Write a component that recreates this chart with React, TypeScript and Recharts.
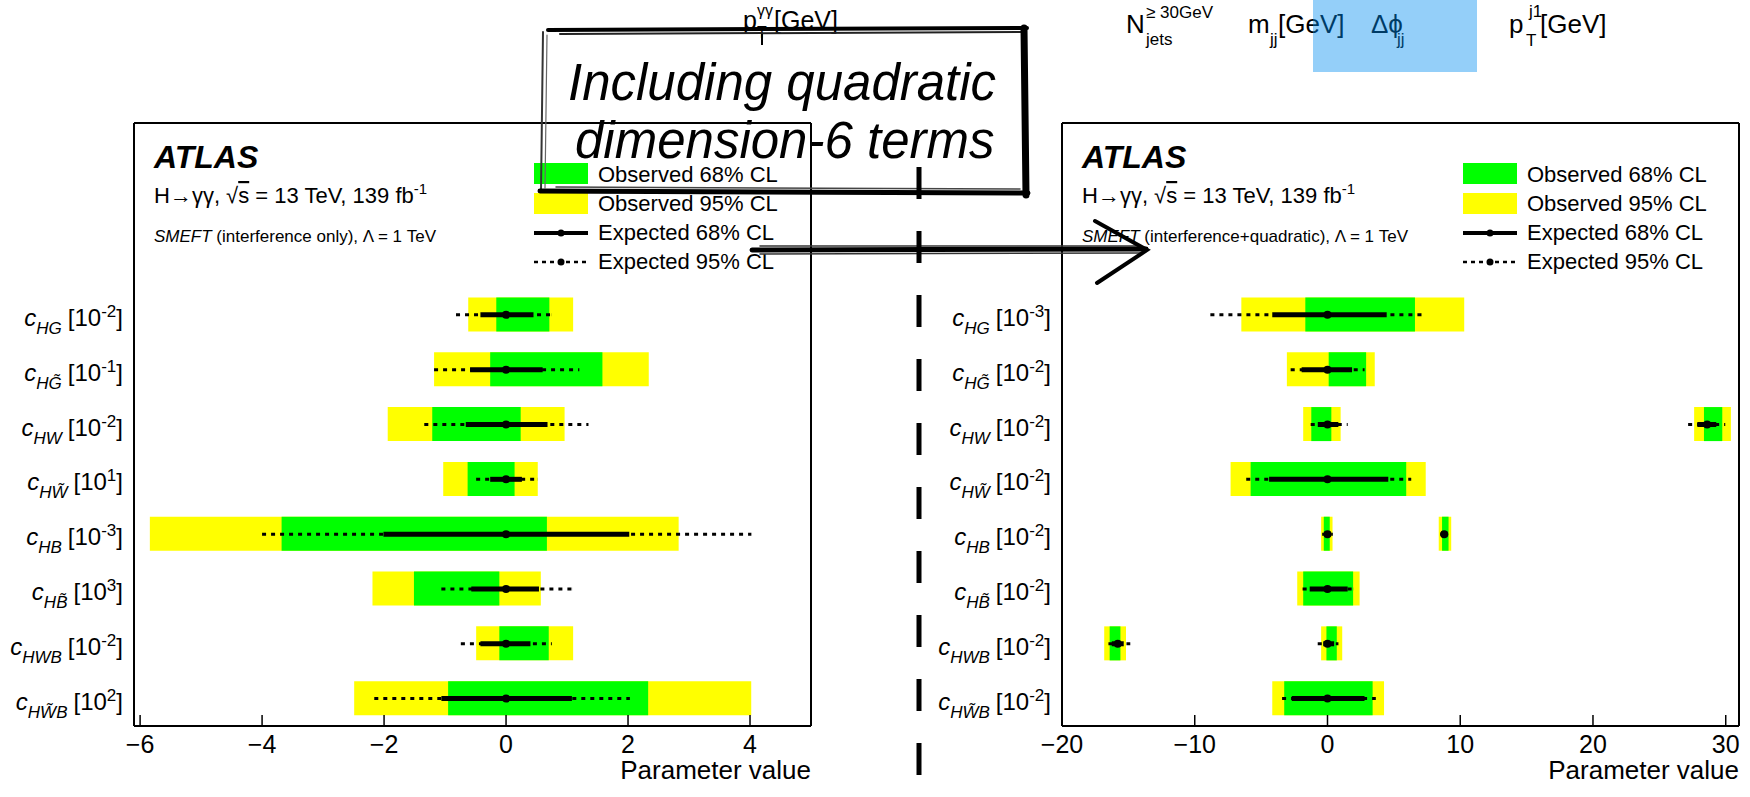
import React from "react";
import { ComposedChart, Bar, Scatter, ErrorBar, XAxis, YAxis } from "recharts";

const FONT = "'Liberation Sans', Arial, Helvetica, sans-serif";
const YELLOW = "#ffff00";
const GREEN = "#00ff00";

type Range = [number, number] | null;

// three empty rows on top leave room for the ATLAS label and the legend
const PAD_ROWS = ["pad0", "pad1", "pad2"];
const OPERATORS = ["cHG", "cHGt", "cHW", "cHWt", "cHB", "cHBt", "cHWB", "cHWtB"];
const OPERATOR_SUBSCRIPTS = ["HG", "HG\u0303", "HW", "HW\u0303", "HB", "HB\u0303", "HWB", "HW\u0303B"];
const ROW_EDGES = [1, 2, 3, 4, 5, 6, 7, 8, 9, 10];

// interference only
const LEFT_EXPONENTS = ["-2", "-1", "-2", "1", "-3", "3", "-2", "2"];
const LEFT_OBS_95: Range[] = [[-0.62, 1.1], [-1.18, 2.34], [-1.94, 0.96], [-1.03, 0.52], [-5.84, 2.83], [-2.19, 0.57], [-0.49, 1.1], [-2.49, 4.02]];
const LEFT_OBS_68: Range[] = [[-0.16, 0.71], [-0.26, 1.58], [-1.21, 0.24], [-0.63, 0.14], [-3.68, 0.67], [-1.51, -0.11], [-0.11, 0.7], [-0.95, 2.33]];
const LEFT_EXP_68: Range[] = [[-0.42, 0.45], [-0.59, 0.6], [-0.66, 0.68], [-0.26, 0.26], [-2.01, 2.02], [-0.57, 0.54], [-0.42, 0.4], [-1.06, 1.08]];
const LEFT_EXP_95: Range[] = [[-0.82, 0.75], [-1.18, 1.2], [-1.34, 1.35], [-0.49, 0.51], [-4.0, 4.02], [-1.06, 1.08], [-0.74, 0.75], [-2.16, 2.03]];
const LEFT_BEST = [0, 0, 0, 0, 0, 0, 0, 0];
const LEFT_TICKS = [-6, -4, -2, 0, 2, 4];
const LEFT_MINOR_TICKS = [-6, -5.5, -5, -4.5, -4, -3.5, -3, -2.5, -2, -1.5, -1, -0.5, 0, 0.5, 1, 1.5, 2, 2.5, 3, 3.5, 4, 4.5, 5];

// interference + quadratic
const RIGHT_EXPONENTS = ["-3", "-2", "-2", "-2", "-2", "-2", "-2", "-2"];
const RIGHT_OBS_95: Range[] = [[-6.49, 10.3], [-3.06, 3.56], [-1.83, 0.99], [-7.3, 7.4], [-0.48, 0.38], [-2.28, 2.42], [-0.48, 1.11], [-4.16, 4.26]];
const RIGHT_OBS_68: Range[] = [[-1.67, 6.59], [0.09, 2.91], [-1.22, 0.29], [-5.79, 5.93], [-0.28, 0.17], [-1.83, 1.93], [-0.08, 0.7], [-3.26, 3.4]];
const RIGHT_EXP_68: Range[] = [[-4.16, 4.46], [-1.95, 1.85], [-0.73, 0.82], [-4.4, 4.58], [-0.25, 0.25], [-1.34, 1.52], [-0.32, 0.5], [-2.69, 2.79]];
const RIGHT_EXP_95: Range[] = [[-8.82, 7.11], [-2.77, 2.79], [-1.26, 1.52], [-6.12, 6.3], [-0.4, 0.4], [-1.87, 1.97], [-0.73, 0.82], [-3.42, 3.64]];
const RIGHT_BEST = [0, 0, 0, 0, 0, 0, 0, 0];
// second minimum for some operators
const RIGHT_ALT_OBS_95: Range[] = [null, null, [27.62, 30.39], null, [8.38, 9.32], null, [-16.82, -15.18], null];
const RIGHT_ALT_OBS_68: Range[] = [null, null, [28.36, 29.74], null, [8.63, 9.12], null, [-16.41, -15.6], null];
const RIGHT_ALT_EXP_68: Range[] = [null, null, [27.86, 29.29], null, [8.55, 9.05], null, [-16.25, -15.35], null];
const RIGHT_ALT_EXP_95: Range[] = [null, null, [27.17, 29.95], null, [8.5, 9.1], null, [-16.5, -14.86], null];
const RIGHT_ALT_BEST = [null, null, 28.6, null, 8.79, null, -15.8, null];
const RIGHT_TICKS = [-20, -10, 0, 10, 20, 30];
const RIGHT_MINOR_TICKS = [-20, -18, -16, -14, -12, -10, -8, -6, -4, -2, 0, 2, 4, 6, 8, 10, 12, 14, 16, 18, 20, 22, 24, 26, 28, 30];

const AXIS_LINE = { stroke: "#000", strokeWidth: 2 };
const TICK_LINE = { stroke: "#000", strokeWidth: 1.5 };

function buildRows(obs95: Range[], obs68: Range[], alt95?: Range[], alt68?: Range[]) {
  return [
    ...PAD_ROWS.map((key) => ({ key })),
    ...OPERATORS.map((key, i) => ({
      key,
      obs95: obs95[i],
      obs68: obs68[i],
      alt95: alt95 ? alt95[i] : null,
      alt68: alt68 ? alt68[i] : null,
    })),
  ];
}

function buildExpected(best: (number | null)[], exp68: Range[], exp95: Range[]) {
  return OPERATORS.map((key, i) => ({ key, best: best[i], exp68: exp68[i], exp95: exp95[i] })).filter(
    (d) => d.best !== null && d.exp68 && d.exp95
  );
}

const err95 = (d: any) => [d.best - d.exp95[0], d.exp95[1] - d.best];
const err68 = (d: any) => [d.best - d.exp68[0], d.exp68[1] - d.best];
const minus = (v: number) => (v < 0 ? `\u2212${Math.abs(v)}` : `${v}`);

const renderDot = (p: any) => <circle cx={p.cx} cy={p.cy} r={4} fill="#000" />;

const renderAxisTitle = (props: any) => {
  const vb = props.viewBox || { x: 0, y: 0, width: 0, height: 0 };
  return (
    <text x={vb.x + vb.width} y={vb.y + 53} textAnchor="end" fontFamily={FONT} fontSize={26} fill="#000">
      Parameter value
    </text>
  );
};

function makeOperatorTick(exponents: string[]) {
  return (props: any) => {
    const { x, y, payload } = props;
    const i = OPERATORS.indexOf(payload.value);
    if (i < 0) return <g />;
    return (
      <text x={x} y={y + 11} textAnchor="end" fontFamily={FONT} fontSize={24} fill="#000">
        <tspan fontStyle="italic">c</tspan>
        <tspan fontStyle="italic" fontSize={17} dy={8}>
          {OPERATOR_SUBSCRIPTS[i]}
        </tspan>
        <tspan dy={-8} dx={6}>
          [10
        </tspan>
        <tspan fontSize={17} dy={-9}>
          {exponents[i]}
        </tspan>
        <tspan dy={9}>]</tspan>
      </text>
    );
  };
}

interface PanelProps {
  rows: any[];
  expected: any[];
  altExpected: any[];
  exponents: string[];
  width: number;
  labelWidth: number;
  rightMargin: number;
  domain: [number, number];
  ticks: number[];
  minorTicks: number[];
}

function LimitPanel(props: PanelProps) {
  const { rows, expected, altExpected, exponents, width, labelWidth, rightMargin, domain, ticks, minorTicks } = props;
  const hiddenCat = { type: "category" as const, dataKey: "key", hide: true, width: 0, allowDuplicatedCategory: false };
  return (
    <ComposedChart
      layout="vertical"
      width={width}
      height={797}
      data={rows}
      margin={{ top: 123, right: rightMargin, bottom: 0, left: 0 }}
    >
      <XAxis
        xAxisId="main"
        type="number"
        domain={domain}
        allowDataOverflow
        ticks={ticks}
        interval={0}
        height={71}
        tickSize={-11}
        tickMargin={20}
        tickFormatter={minus}
        tick={{ fill: "#000", fontSize: 25, fontFamily: FONT }}
        axisLine={AXIS_LINE}
        tickLine={TICK_LINE}
        label={renderAxisTitle}
      />
      <XAxis xAxisId="minorBottom" type="number" domain={domain} allowDataOverflow ticks={minorTicks} interval={0}
        mirror height={1} tickSize={6} tick={false} axisLine={false} tickLine={TICK_LINE} />
      <XAxis xAxisId="majorTop" orientation="top" type="number" domain={domain} allowDataOverflow ticks={ticks} interval={0}
        mirror height={1} tickSize={11} tick={false} axisLine={AXIS_LINE} tickLine={TICK_LINE} />
      <XAxis xAxisId="minorTop" orientation="top" type="number" domain={domain} allowDataOverflow ticks={minorTicks} interval={0}
        mirror height={1} tickSize={6} tick={false} axisLine={false} tickLine={TICK_LINE} />

      <YAxis
        yAxisId="cat"
        type="category"
        dataKey="key"
        width={labelWidth}
        allowDuplicatedCategory={false}
        interval={0}
        tickLine={false}
        tickSize={0}
        tickMargin={11}
        axisLine={AXIS_LINE}
        tick={makeOperatorTick(exponents)}
      />
      <YAxis yAxisId="zGreen" {...hiddenCat} />
      <YAxis yAxisId="zAltYellow" {...hiddenCat} />
      <YAxis yAxisId="zAltGreen" {...hiddenCat} />
      <YAxis yAxisId="frameLeft" type="number" domain={[0, 11]} allowDataOverflow ticks={ROW_EDGES} interval={0}
        mirror width={1} tickSize={12} tick={false} axisLine={false} tickLine={TICK_LINE} />
      <YAxis yAxisId="frameRight" orientation="right" type="number" domain={[0, 11]} allowDataOverflow ticks={ROW_EDGES}
        interval={0} mirror width={1} tickSize={12} tick={false} axisLine={AXIS_LINE} tickLine={TICK_LINE} />

      <Bar xAxisId="main" yAxisId="cat" dataKey="obs95" fill={YELLOW} barSize={34} isAnimationActive={false} />
      <Bar xAxisId="main" yAxisId="zGreen" dataKey="obs68" fill={GREEN} barSize={34} isAnimationActive={false} />
      <Bar xAxisId="main" yAxisId="zAltYellow" dataKey="alt95" fill={YELLOW} barSize={34} isAnimationActive={false} />
      <Bar xAxisId="main" yAxisId="zAltGreen" dataKey="alt68" fill={GREEN} barSize={34} isAnimationActive={false} />

      <Scatter xAxisId="main" yAxisId="cat" data={expected} dataKey="best" shape={renderDot} isAnimationActive={false}>
        <ErrorBar direction="x" dataKey={err95} width={0} stroke="#000" strokeWidth={3} strokeDasharray="4 5" isAnimationActive={false} />
        <ErrorBar direction="x" dataKey={err68} width={0} stroke="#000" strokeWidth={5} isAnimationActive={false} />
      </Scatter>
      {altExpected.length > 0 && (
        <Scatter xAxisId="main" yAxisId="cat" data={altExpected} dataKey="best" shape={renderDot} isAnimationActive={false}>
          <ErrorBar direction="x" dataKey={err95} width={0} stroke="#000" strokeWidth={3} strokeDasharray="4 5" isAnimationActive={false} />
          <ErrorBar direction="x" dataKey={err68} width={0} stroke="#000" strokeWidth={5} isAnimationActive={false} />
        </Scatter>
      )}
    </ComposedChart>
  );
}

function AtlasLabel({ x, model }: { x: number; model: string }) {
  return (
    <g fontFamily={FONT} fill="#000">
      <text x={x} y={168} fontSize={32} fontWeight="bold" fontStyle="italic">
        ATLAS
      </text>
      <text x={x} y={203} fontSize={22}>
        H{"\u2192\u03B3\u03B3, \u221A"}
        <tspan textDecoration="overline">s</tspan>
        {" = 13 TeV,  139 fb"}
        <tspan fontSize={15} dy={-9}>
          -1
        </tspan>
      </text>
      <text x={x} y={242} fontSize={17}>
        <tspan fontStyle="italic">SMEFT</tspan>
        {`  (${model}), \u039B = 1 TeV`}
      </text>
    </g>
  );
}

function LegendBlock({ x }: { x: number }) {
  const tx = x + 64;
  return (
    <g fontFamily={FONT} fontSize={22} fill="#000">
      <rect x={x} y={163} width={54} height={21} fill={GREEN} />
      <text x={tx} y={182}>Observed 68% CL</text>
      <rect x={x} y={193} width={54} height={21} fill={YELLOW} />
      <text x={tx} y={211}>Observed 95% CL</text>
      <line x1={x} x2={x + 54} y1={233} y2={233} stroke="#000" strokeWidth={4} />
      <circle cx={x + 27} cy={233} r={3.5} fill="#000" />
      <text x={tx} y={240}>Expected 68% CL</text>
      <line x1={x} x2={x + 54} y1={262} y2={262} stroke="#000" strokeWidth={2.5} strokeDasharray="4 4" />
      <circle cx={x + 27} cy={262} r={3.5} fill="#000" />
      <text x={tx} y={269}>Expected 95% CL</text>
    </g>
  );
}

function Annotations() {
  return (
    <svg width={1750} height={797} style={{ position: "absolute", left: 0, top: 0, pointerEvents: "none" }}>
      <AtlasLabel x={154} model="interference only" />
      <AtlasLabel x={1082} model="interference+quadratic" />
      <LegendBlock x={534} />
      <LegendBlock x={1463} />

      {/* slide overlay: kinematic variable labels */}
      <g fontFamily={FONT} fill="#000">
        <text x={743} y={29} fontSize={25}>
          p
        </text>
        <text x={757} y={38} fontSize={16}>
          T
        </text>
        <text x={757} y={16} fontSize={16}>
          {"\u03B3\u03B3"}
        </text>
        <text x={774} y={29} fontSize={25}>
          [GeV]
        </text>
        <line x1={762} x2={762} y1={33} y2={45} stroke="#000" strokeWidth={2} />

        <text x={1126} y={33} fontSize={26}>N</text>
        <text x={1146} y={18} fontSize={17}>{"\u2265 30GeV"}</text>
        <text x={1146} y={45} fontSize={17}>jets</text>
        <text x={1248} y={33} fontSize={26}>m</text>
        <text x={1270} y={45} fontSize={17}>jj</text>
        <text x={1278} y={33} fontSize={26}>[GeV]</text>
        <text x={1371} y={33} fontSize={26}>{"\u0394\u03D5"}</text>
        <text x={1397} y={45} fontSize={17}>jj</text>
        <text x={1509} y={33} fontSize={26}>p</text>
        <text x={1526} y={46} fontSize={17}>T</text>
        <text x={1529} y={17} fontSize={17}>j1</text>
        <text x={1540} y={33} fontSize={26}>[GeV]</text>
      </g>
      <rect x={1313} y={0} width={164} height={72} fill="rgb(0,140,240)" fillOpacity={0.42} />

      {/* hand drawn box */}
      <g fill="none" stroke="#000" strokeLinecap="round">
        <path d="M548 30 L1027 28" strokeWidth={4} />
        <path d="M560 34 L1022 32" strokeWidth={2} stroke="#222" />
        <path d="M543 32 L541 191" strokeWidth={2} stroke="#333" />
        <path d="M547 35 L545 188" strokeWidth={1.2} stroke="#666" />
        <path d="M1024 28 L1026 195" strokeWidth={7} />
        <path d="M540 191 L1028 193" strokeWidth={5} />
        <path d="M556 187 L1020 189" strokeWidth={1.5} stroke="#444" />
      </g>
      <g fontFamily={FONT} fontStyle="italic" fontSize={51} fill="#000">
        <text x={568} y={100}>Including quadratic</text>
        <text x={575} y={158}>dimension-6 terms</text>
      </g>

      {/* arrow */}
      <g fill="none" stroke="#000" strokeLinecap="round">
        <path d="M752 250 L1146 249" strokeWidth={5} />
        <path d="M760 246 L1140 246" strokeWidth={1.5} stroke="#333" />
        <path d="M760 254 L1140 253" strokeWidth={1.5} stroke="#333" />
        <path d="M1095 221 L1147 250 L1097 283" strokeWidth={4} />
      </g>

      {/* separating dashed line */}
      <line x1={919} x2={919} y1={167} y2={775} stroke="#000" strokeWidth={5} strokeDasharray="32 32" />
    </svg>
  );
}

const LEFT_ROWS = buildRows(LEFT_OBS_95, LEFT_OBS_68);
const LEFT_EXPECTED = buildExpected(LEFT_BEST, LEFT_EXP_68, LEFT_EXP_95);
const RIGHT_ROWS = buildRows(RIGHT_OBS_95, RIGHT_OBS_68, RIGHT_ALT_OBS_95, RIGHT_ALT_OBS_68);
const RIGHT_EXPECTED = buildExpected(RIGHT_BEST, RIGHT_EXP_68, RIGHT_EXP_95);
const RIGHT_ALT_EXPECTED = buildExpected(RIGHT_ALT_BEST, RIGHT_ALT_EXP_68, RIGHT_ALT_EXP_95);

export default function App() {
  return (
    <div
      style={{
        position: "absolute",
        left: 0,
        top: 0,
        width: 1750,
        height: 797,
        overflow: "hidden",
        background: "#fff",
        fontFamily: FONT,
      }}
    >
      <div style={{ position: "absolute", left: 0, top: 0 }}>
        <LimitPanel
          rows={LEFT_ROWS}
          expected={LEFT_EXPECTED}
          altExpected={[]}
          exponents={LEFT_EXPONENTS}
          width={830}
          labelWidth={134}
          rightMargin={19}
          domain={[-6.1, 5]}
          ticks={LEFT_TICKS}
          minorTicks={LEFT_MINOR_TICKS}
        />
      </div>
      <div style={{ position: "absolute", left: 900, top: 0 }}>
        <LimitPanel
          rows={RIGHT_ROWS}
          expected={RIGHT_EXPECTED}
          altExpected={RIGHT_ALT_EXPECTED}
          exponents={RIGHT_EXPONENTS}
          width={850}
          labelWidth={162}
          rightMargin={11}
          domain={[-20, 31]}
          ticks={RIGHT_TICKS}
          minorTicks={RIGHT_MINOR_TICKS}
        />
      </div>
      <Annotations />
    </div>
  );
}
